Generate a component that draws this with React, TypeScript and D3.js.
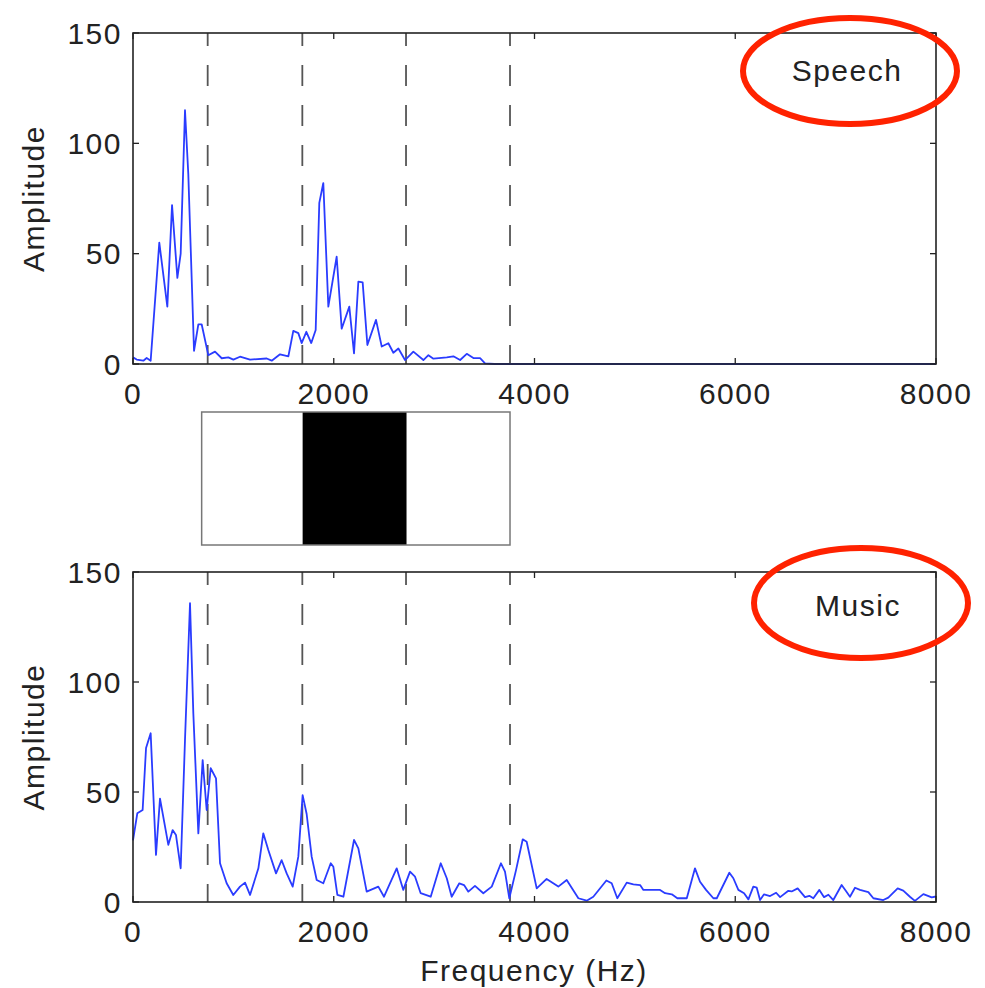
import React from "react";
import * as d3 from "d3";

const xTicks = [0, 2000, 4000, 6000, 8000];
const yTicks = [0, 50, 100, 150];
const dashedFreqs = [744, 1687, 2720, 3756];
const boxEdges = [684, 1690, 2725, 3756];

const speechFreq = [0, 37, 103, 136, 176, 262, 342, 389, 442, 475, 518, 551, 608, 651, 684, 750, 817, 884, 950, 1000, 1066, 1166, 1332, 1382, 1465, 1548, 1597, 1647, 1680, 1727, 1776, 1820, 1856, 1896, 1946, 2029, 2079, 2155, 2202, 2245, 2288, 2335, 2421, 2478, 2544, 2594, 2644, 2710, 2793, 2893, 2943, 2993, 3126, 3192, 3259, 3325, 3391, 3458, 3507, 3600, 8000];
const speechAmp = [3, 2, 1.5, 2.7, 1.5, 55, 26, 72, 39, 50, 115, 86, 6, 18, 18, 4, 5.6, 2.6, 3, 2, 3.3, 2, 2.5, 1.5, 4.4, 3.5, 15, 14, 9.5, 14.6, 9.5, 15.4, 73, 82, 26, 48.6, 16, 26, 4.8, 37.3, 37, 8.6, 20, 7.9, 9.4, 5.1, 7, 1.8, 5.6, 1.8, 4, 2.4, 3, 3.5, 1.8, 4.6, 2.7, 2.7, 0.3, 0, 0];

const musicFreq = [0, 43, 96, 130, 176, 229, 269, 352, 395, 428, 475, 518, 568, 601, 651, 694, 734, 774, 827, 867, 933, 999, 1066, 1116, 1166, 1249, 1298, 1348, 1425, 1481, 1531, 1591, 1647, 1690, 1730, 1780, 1830, 1896, 1970, 1996, 2036, 2096, 2202, 2245, 2328, 2444, 2501, 2627, 2693, 2760, 2810, 2866, 2966, 3066, 3126, 3175, 3251, 3298, 3341, 3407, 3490, 3574, 3666, 3706, 3749, 3816, 3883, 3922, 4022, 4121, 4237, 4321, 4437, 4520, 4586, 4716, 4769, 4825, 4919, 4985, 5052, 5085, 5251, 5301, 5368, 5423, 5517, 5599, 5649, 5709, 5782, 5816, 5941, 5981, 6031, 6088, 6131, 6180, 6214, 6247, 6287, 6347, 6407, 6447, 6529, 6562, 6622, 6695, 6738, 6778, 6838, 6885, 6928, 6977, 7060, 7103, 7143, 7193, 7243, 7326, 7376, 7475, 7525, 7618, 7674, 7740, 7790, 7874, 7907, 7957, 8000];
const musicAmp = [28, 40.3, 41.8, 70, 76.7, 21.4, 47, 26, 32.7, 30.5, 15.3, 73.6, 135.8, 85.8, 31.2, 64.5, 41.8, 60.8, 56.2, 17.6, 8.5, 3.2, 7, 8.8, 3.2, 15.3, 31.2, 23.6, 13, 19, 13, 7, 20.6, 48.6, 40, 20.6, 10, 8.5, 17.6, 16, 3.2, 2.4, 28.2, 24.4, 4.7, 7, 2.4, 15.3, 5.5, 13.8, 11.5, 4, 2.4, 17.6, 10.8, 2.4, 8.5, 7.7, 4.7, 7.3, 4, 7, 17.6, 13.8, 1.7, 14.5, 28.5, 27.4, 6.2, 10.5, 7, 10, 1.7, 0.6, 2.4, 9.8, 8.5, 1.7, 8.8, 8, 7.7, 5.5, 5.5, 4, 3.5, 1.7, 1.7, 15.3, 9.2, 5.5, 1.7, 1.7, 13.3, 10.8, 5.5, 4, 1.2, 7, 6.5, 0.9, 3.5, 2.7, 4.2, 2.2, 5.1, 4.8, 6.2, 2.2, 2.8, 1.7, 5.5, 2.2, 3.3, 0.9, 7.7, 5, 2.4, 6.5, 5.5, 4.5, 1.7, 0.9, 2, 6.2, 5.2, 2.4, 0.5, 3.6, 3, 2.1, 2.5];

const FONT = "'Liberation Sans', Arial, Helvetica, sans-serif";
const TXT = "#222";

const x = d3.scaleLinear().domain([0, 8000]).range([133, 936]);

type PanelProps = { top: number; bottom: number; freq: number[]; amp: number[]; label: string; ell: { cx: number; cy: number; rx: number; ry: number }; labelX: number; labelY: number };

function Panel({ top, bottom, freq, amp, label, ell, labelX, labelY }: PanelProps) {
  const y = d3.scaleLinear().domain([0, 150]).range([bottom, top]);
  const pts: [number, number][] = freq.map((f, i) => [f, amp[i]]);
  const line = d3.line<[number, number]>().x((d) => x(d[0])).y((d) => y(d[1]));
  const x0 = x.range()[0];
  const x1 = x.range()[1];
  const tl = 6;
  return (
    <g>
      {dashedFreqs.map((f, i) => (
        <line key={"d" + i} x1={x(f)} x2={x(f)} y1={top} y2={bottom} stroke="#555" strokeWidth={1.8} strokeDasharray="21,19" strokeDashoffset={8} />
      ))}
      <path d={line(pts) || ""} fill="none" stroke="#2a3cff" strokeWidth={1.8} strokeLinejoin="round" />
      <rect x={x0} y={top} width={x1 - x0} height={bottom - top} fill="none" stroke="#222" strokeWidth={1.6} />
      {xTicks.map((t, i) => (
        <g key={"xt" + i}>
          <line x1={x(t)} x2={x(t)} y1={bottom} y2={bottom - tl} stroke="#222" strokeWidth={1.3} />
          <line x1={x(t)} x2={x(t)} y1={top} y2={top + tl} stroke="#222" strokeWidth={1.3} />
          <text x={x(t)} y={bottom + 40} textAnchor="middle" fontFamily={FONT} fontSize={30} letterSpacing={1.5} fill={TXT}>{t}</text>
        </g>
      ))}
      {yTicks.map((t, i) => (
        <g key={"yt" + i}>
          <line x1={x0} x2={x0 + tl} y1={y(t)} y2={y(t)} stroke="#222" strokeWidth={1.3} />
          <line x1={x1} x2={x1 - tl} y1={y(t)} y2={y(t)} stroke="#222" strokeWidth={1.3} />
          <text x={122} y={y(t)} dy="0.36em" textAnchor="end" fontFamily={FONT} fontSize={30} letterSpacing={1.5} fill={TXT}>{t}</text>
        </g>
      ))}
      <text transform={`translate(44,${(top + bottom) / 2}) rotate(-90)`} textAnchor="middle" fontFamily={FONT} fontSize={30} letterSpacing={1.5} fill={TXT}>Amplitude</text>
      <text x={labelX} y={labelY} dy="0.36em" textAnchor="middle" fontFamily={FONT} fontSize={30} letterSpacing={1.5} fill={TXT}>{label}</text>
      <ellipse cx={ell.cx} cy={ell.cy} rx={ell.rx} ry={ell.ry} fill="none" stroke="#ff2200" strokeWidth={6} />
    </g>
  );
}

export default function App() {
  const boxTop = 412;
  const boxBottom = 545;
  return (
    <svg width={985} height={988} style={{ position: "absolute", left: 0, top: 0, background: "#fff" }}>
      <rect x={0} y={0} width={985} height={988} fill="#fff" />
      <Panel top={33} bottom={364} freq={speechFreq} amp={speechAmp} label="Speech" ell={{ cx: 850, cy: 71, rx: 107, ry: 53 }} labelX={847} labelY={70} />
      <Panel top={572} bottom={902} freq={musicFreq} amp={musicAmp} label="Music" ell={{ cx: 861, cy: 603, rx: 107, ry: 55 }} labelX={858} labelY={605} />
      <rect x={x(boxEdges[1])} y={boxTop} width={x(boxEdges[2]) - x(boxEdges[1])} height={boxBottom - boxTop} fill="#000" />
      <rect x={x(boxEdges[0])} y={boxTop} width={x(boxEdges[3]) - x(boxEdges[0])} height={boxBottom - boxTop} fill="none" stroke="#777" strokeWidth={1.5} />
      <text x={534} y={970} dy="0.36em" textAnchor="middle" fontFamily={FONT} fontSize={30} letterSpacing={1.5} fill={TXT}>Frequency (Hz)</text>
    </svg>
  );
}
